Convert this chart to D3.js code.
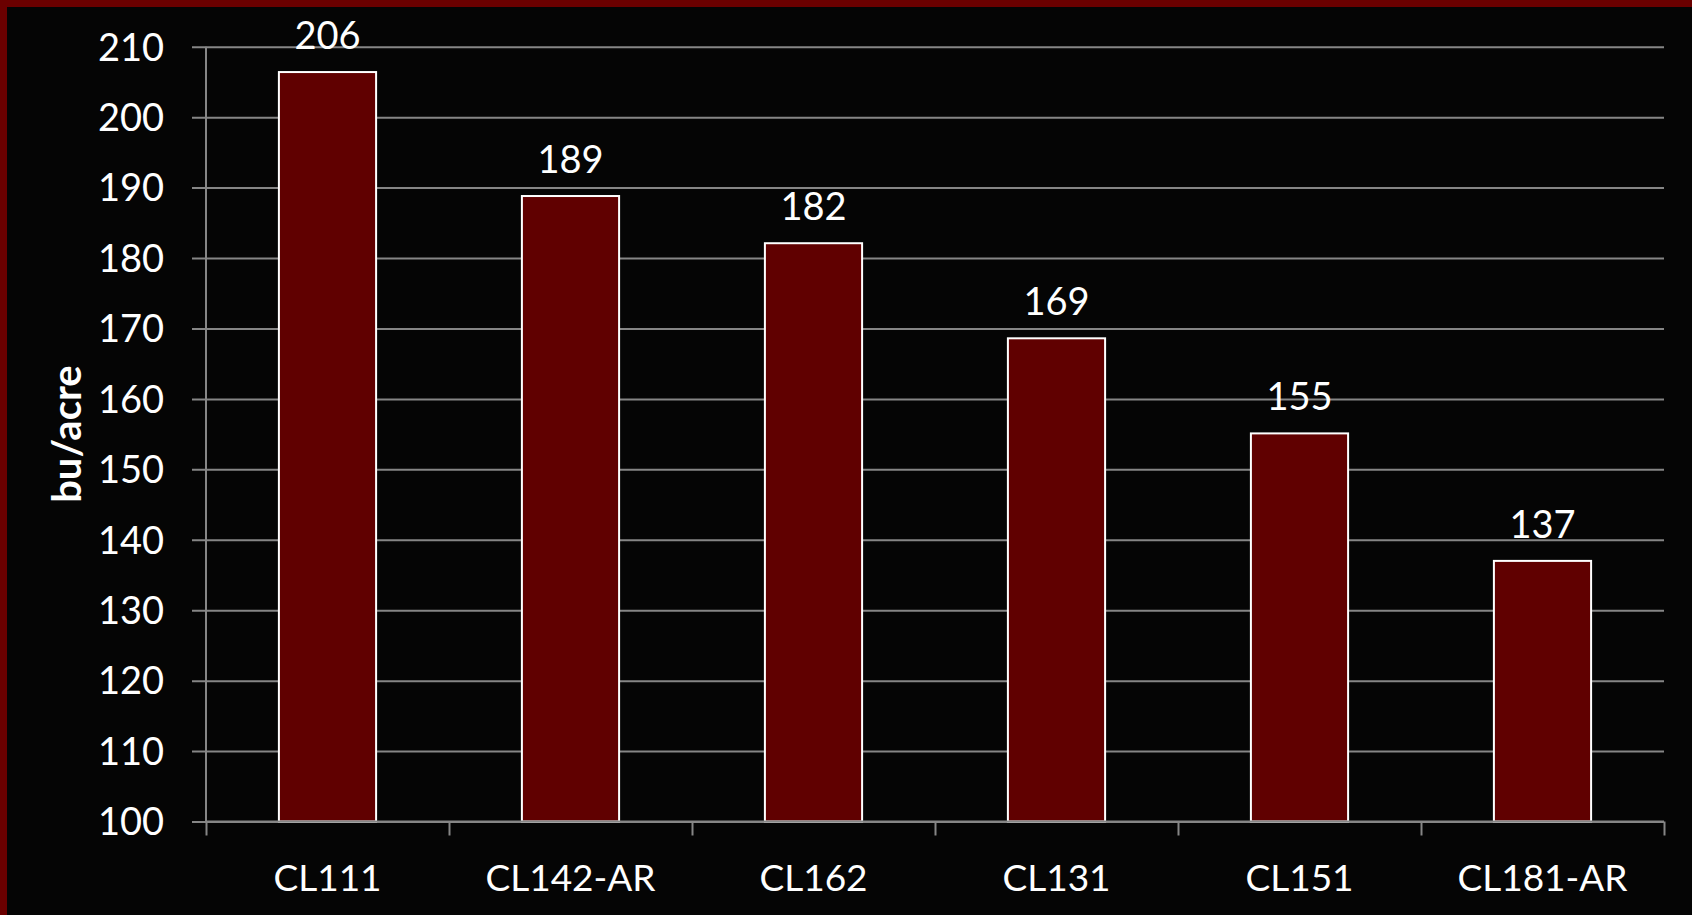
<!DOCTYPE html>
<html>
<head>
<meta charset="utf-8">
<script src="https://cdn.jsdelivr.net/npm/d3@7"></script>
<style>
  html, body { margin: 0; padding: 0; background: #050505; }
  svg { display: block; }
</style>
</head>
<body>
<svg id="chart" width="1692" height="915"></svg>
<script>
const categories = ["CL111", "CL142-AR", "CL162", "CL131", "CL151", "CL181-AR"];
const yields = [206.4, 188.8, 182.1, 168.6, 155.1, 137.0];
const yTicks = [100, 110, 120, 130, 140, 150, 160, 170, 180, 190, 200, 210];
const yAxisTitle = "bu/acre";

(function () {
const W = 1692, H = 915;
const pLeft = 206, pRight = 1664, pTop = 46.7, pBottom = 821.5;
const font = "Lato, 'Open Sans', sans-serif";
const gridColor = "#868686";

const svg = d3.select("#chart");

// frame
svg.append("rect").attr("x", 0).attr("y", 0).attr("width", W).attr("height", H).attr("fill", "#050505");
svg.append("rect").attr("x", 0).attr("y", 0).attr("width", W).attr("height", 7).attr("fill", "#6b0000");
svg.append("rect").attr("x", 0).attr("y", 0).attr("width", 7).attr("height", H).attr("fill", "#6b0000");

const x = d3.scaleBand().domain(categories).range([pLeft, pRight]).paddingInner(0.6).paddingOuter(0.3);
const y = d3.scaleLinear().domain([100, 210]).range([pBottom, pTop]);
const xb = d3.scaleLinear().domain([0, categories.length]).range([pLeft, pRight]);

// gridlines (start at tick end, left of axis)
const grid = svg.append("g").attr("transform", `translate(${pLeft - 14},0)`)
  .call(d3.axisRight(y).tickValues(yTicks).tickSize(pRight - pLeft + 14).tickFormat(""));
grid.select(".domain").remove();
grid.selectAll("line").attr("stroke", gridColor).attr("stroke-width", 2);

// y axis labels
const ya = svg.append("g").attr("transform", `translate(${pLeft},0)`)
  .call(d3.axisLeft(y).tickValues(yTicks).tickSize(0).tickPadding(42).tickFormat(d3.format("d")));
ya.select(".domain").remove();
ya.selectAll("text").attr("fill", "#ffffff").attr("font-family", font).attr("font-size", 38).attr("dy", "0.35em");

// bars
svg.append("g").selectAll("rect").data(yields).join("rect")
  .attr("x", (d, i) => x(categories[i]))
  .attr("y", d => y(d))
  .attr("width", x.bandwidth())
  .attr("height", d => y(100) - y(d))
  .attr("fill", "#600000")
  .attr("stroke", "#ffffff")
  .attr("stroke-width", 2);

// x axis with boundary ticks
const xa = svg.append("g").attr("transform", `translate(0,${pBottom})`)
  .call(d3.axisBottom(xb).tickValues(d3.range(categories.length + 1)).tickSize(14).tickFormat(""));
xa.select(".domain").attr("stroke", gridColor).attr("stroke-width", 2).attr("d", `M${pLeft},0H${pRight}`);
xa.selectAll("line").attr("stroke", gridColor).attr("stroke-width", 2);

// vertical axis line
svg.append("line").attr("x1", pLeft).attr("x2", pLeft).attr("y1", y(210)).attr("y2", pBottom)
  .attr("stroke", gridColor).attr("stroke-width", 2);

// category labels
const xl = svg.append("g").attr("transform", `translate(0,${pBottom})`)
  .call(d3.axisBottom(x).tickSize(0).tickPadding(0));
xl.select(".domain").remove();
xl.selectAll("text").attr("fill", "#ffffff").attr("font-family", font).attr("font-size", 37)
  .attr("y", 69).attr("dy", 0);

// value labels
svg.append("g").selectAll("text").data(yields).join("text")
  .attr("x", (d, i) => x(categories[i]) + x.bandwidth() / 2)
  .attr("y", d => y(d) - 23)
  .attr("text-anchor", "middle")
  .attr("fill", "#ffffff")
  .attr("font-family", font)
  .attr("font-size", 38)
  .text(d => d3.format(".0f")(d));

// y axis title
svg.append("text")
  .attr("transform", `translate(81,${(pTop + pBottom) / 2}) rotate(-90)`)
  .attr("text-anchor", "middle")
  .attr("fill", "#ffffff")
  .attr("font-family", font)
  .attr("font-weight", "bold")
  .attr("font-size", 40)
  .text(yAxisTitle);
})();
</script>
</body>
</html>
